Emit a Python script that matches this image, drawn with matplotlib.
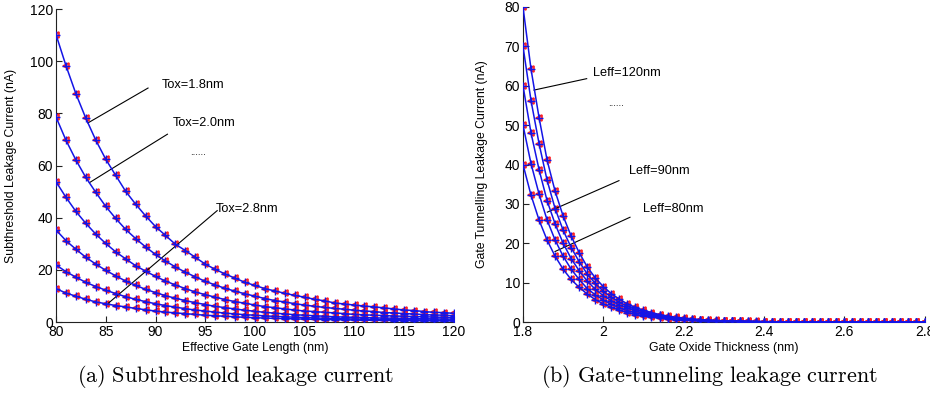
import numpy as np
import matplotlib
matplotlib.use("Agg")
import matplotlib.pyplot as plt

plt.rcParams['font.family'] = ['Liberation Sans', 'DejaVu Sans']
plt.rcParams['mathtext.fontset'] = 'cm'

# ---------------- data: left panel (subthreshold leakage) ----------------
leff_nm = list(range(80, 121))
tox_labels = ["1.8", "2.0", "2.2", "2.4", "2.6", "2.8"]
sub_tox18 = [110.2, 98.3, 87.5, 78.1, 69.7, 62.4, 56.2, 50.1, 45.2, 40.7, 36.6, 33.2, 29.8, 27.4, 24.8,
             22.2, 20.2, 18.4, 16.8, 15.2, 14.0, 12.8, 11.9, 11.0, 10.2, 9.5, 8.7, 8.1, 7.3, 6.9, 6.5,
             6.1, 5.8, 5.4, 5.0, 4.6, 4.4, 4.0, 3.7, 3.6, 3.3]
sub_tox20 = [78.6, 69.7, 62.1, 55.4, 49.7, 44.3, 39.7, 35.5, 32.0, 28.8, 25.9, 23.4, 21.1, 19.1, 17.3,
             15.6, 14.2, 12.9, 11.8, 10.8, 9.9, 9.0, 8.2, 7.7, 7.0, 6.5, 6.0, 5.6, 5.2, 4.9, 4.5,
             4.2, 4.0, 3.6, 3.5, 3.2, 3.1, 2.8, 2.7, 2.6, 2.4]
sub_tox22 = [53.8, 47.8, 42.4, 37.8, 33.7, 30.1, 26.9, 24.2, 21.6, 19.5, 17.5, 15.7, 14.2, 12.8, 11.5,
             10.5, 9.5, 8.6, 7.8, 7.2, 6.5, 5.9, 5.5, 5.0, 4.6, 4.2, 4.0, 3.7, 3.5, 3.2, 2.9,
             2.75, 2.6, 2.45, 2.3, 2.2, 2.1, 2.0, 1.9, 1.8, 1.7]
sub_tox24 = [35.3, 31.2, 27.9, 24.8, 22.2, 19.8, 17.7, 15.7, 14.1, 12.5, 11.3, 10.1, 9.1, 8.2, 7.4,
             6.7, 6.0, 5.5, 5.0, 4.5, 4.1, 3.7, 3.4, 3.1, 2.8, 2.6, 2.4, 2.2, 2.0, 1.9, 1.8,
             1.7, 1.6, 1.5, 1.45, 1.4, 1.3, 1.25, 1.2, 1.15, 1.1]
sub_tox26 = [21.9, 19.3, 17.2, 15.2, 13.6, 12.2, 10.9, 9.7, 8.7, 7.8, 7.0, 6.3, 5.7, 5.1, 4.6,
             4.2, 3.8, 3.4, 3.1, 2.8, 2.6, 2.35, 2.15, 2.0, 1.85, 1.7, 1.55, 1.45, 1.35, 1.25, 1.15,
             1.1, 1.0, 0.95, 0.9, 0.85, 0.8, 0.78, 0.75, 0.72, 0.7]
sub_tox28 = [12.8, 11.1, 9.9, 8.7, 7.7, 7.0, 6.3, 5.8, 5.2, 4.7, 4.2, 3.8, 3.5, 3.2, 2.9,
             2.6, 2.4, 2.2, 2.0, 1.8, 1.65, 1.5, 1.4, 1.3, 1.2, 1.1, 1.0, 0.95, 0.9, 0.82, 0.76,
             0.7, 0.65, 0.6, 0.56, 0.52, 0.5, 0.47, 0.45, 0.42, 0.4]

# ---------------- data: right panel (gate tunnelling leakage) ----------------
tox_nm = [round(1.80 + 0.02 * i, 2) for i in range(51)]
gate_leff120 = [80, 64.2, 51.9, 41.1, 33.2, 26.9, 21.8, 17.6, 14.0, 11.2, 9.0, 7.2, 5.8, 4.6, 3.7, 3.0,
                2.4, 1.9, 1.5, 1.2, 1.0, 0.8, 0.6, 0.5, 0.4, 0.3, 0.25, 0.2, 0.16, 0.13, 0.1, 0.08,
                0.07, 0.05, 0.04, 0.03, 0.03, 0.02, 0.02, 0.01, 0.01, 0.01, 0.01,
                0, 0, 0, 0, 0, 0, 0, 0]
gate_leff110 = [70, 56.2, 45.3, 36.0, 28.8, 23.3, 18.9, 15.3, 12.2, 9.8, 7.8, 6.3, 5.0, 4.0, 3.2, 2.6,
                2.1, 1.7, 1.3, 1.05, 0.85, 0.7, 0.55, 0.44, 0.35, 0.28, 0.22, 0.18, 0.14, 0.11, 0.09,
                0.07, 0.06, 0.05, 0.04, 0.03, 0.02, 0.02, 0.01, 0.01, 0.01, 0.01,
                0, 0, 0, 0, 0, 0, 0, 0, 0]
gate_leff100 = [60, 48.0, 38.7, 30.8, 24.9, 20.0, 16.1, 13.0, 10.4, 8.3, 6.7, 5.4, 4.3, 3.5, 2.8, 2.2,
                1.8, 1.4, 1.15, 0.9, 0.75, 0.6, 0.48, 0.38, 0.3, 0.24, 0.19, 0.15, 0.12, 0.1, 0.08,
                0.06, 0.05, 0.04, 0.03, 0.02, 0.02, 0.01, 0.01, 0.01,
                0, 0, 0, 0, 0, 0, 0, 0, 0, 0, 0]
gate_leff90 = [50, 40.2, 32.5, 25.9, 20.8, 16.7, 13.4, 10.8, 8.5, 6.9, 5.6, 4.5, 3.6, 2.9, 2.3, 1.85,
               1.5, 1.2, 0.95, 0.76, 0.6, 0.48, 0.39, 0.31, 0.25, 0.2, 0.16, 0.13, 0.1, 0.08, 0.06,
               0.05, 0.04, 0.03, 0.02, 0.02, 0.01, 0.01,
               0, 0, 0, 0, 0, 0, 0, 0, 0, 0, 0, 0, 0]
gate_leff80 = [40, 32.2, 25.9, 20.8, 16.7, 13.4, 10.8, 8.8, 7.1, 5.7, 4.6, 3.7, 3.0, 2.4, 1.9, 1.5,
               1.2, 0.97, 0.78, 0.62, 0.5, 0.4, 0.32, 0.26, 0.2, 0.16, 0.13, 0.1, 0.08, 0.065, 0.05,
               0.04, 0.03, 0.02, 0.02, 0.01, 0.01,
               0, 0, 0, 0, 0, 0, 0, 0, 0, 0, 0, 0, 0, 0]

sub_series = [sub_tox18, sub_tox20, sub_tox22, sub_tox24, sub_tox26, sub_tox28]
gate_series = [gate_leff120, gate_leff110, gate_leff100, gate_leff90, gate_leff80]

fig = plt.figure(figsize=(9.3, 4.0), dpi=100)
ax1 = fig.add_axes([56 / 930, 1 - 322 / 400, 398 / 930, 313 / 400])
ax2 = fig.add_axes([523 / 930, 1 - 322 / 400, 401.5 / 930, 315 / 400])


def draw_series(ax, x, ys):
    for y in ys:
        ax.plot(x, y, linestyle='none', marker='<', markersize=5, markerfacecolor='#ff9090',
                markeredgecolor='#ff2020', markeredgewidth=1.2, zorder=2)
        ax.plot(x, y, color='#1414e6', linewidth=1.1, marker='+', markersize=6,
                markeredgewidth=1.0, zorder=3)


draw_series(ax1, leff_nm, sub_series)
draw_series(ax2, tox_nm, gate_series)

for ax in (ax1, ax2):
    for s in ('top', 'right'):
        ax.spines[s].set_visible(False)
    for s in ('left', 'bottom'):
        ax.spines[s].set_color('#222222')
        ax.spines[s].set_linewidth(0.8)
    ax.tick_params(direction='in', length=4, width=0.8, labelsize=10, pad=2, colors='#222222')
    ax.tick_params(labelcolor='black')

ax1.set_xlim(80, 120)
ax1.set_ylim(0, 120)
ax1.set_xticks([80, 85, 90, 95, 100, 105, 110, 115, 120])
ax1.set_yticks([0, 20, 40, 60, 80, 100, 120])
ax1.set_xlabel("Effective Gate Length (nm)", fontsize=8.8)
ax1.set_ylabel("Subthreshold Leakage Current (nA)", fontsize=8.8)
ax1.xaxis.set_label_coords(0.5, -0.065)
ax1.yaxis.set_label_coords(-0.097, 0.5)

ax2.set_xlim(1.8, 2.8)
ax2.set_ylim(0, 80)
ax2.set_xticks([1.8, 2.0, 2.2, 2.4, 2.6, 2.8])
ax2.set_xticklabels(["1.8", "2", "2.2", "2.4", "2.6", "2.8"])
ax2.set_yticks([0, 10, 20, 30, 40, 50, 60, 70, 80])
ax2.set_xlabel("Gate Oxide Thickness (nm)", fontsize=8.8)
ax2.set_ylabel("Gate Tunnelling Leakage Current (nA)", fontsize=8.8)
ax2.xaxis.set_label_coords(0.5, -0.065)
ax2.yaxis.set_label_coords(-0.087, 0.5)

# annotations
ann = dict(color='black', linewidth=0.8)
ax1.plot([83.2, 89.25], [76.3, 89.7], **ann)
ax1.text(90.65, 91.0, "Tox=1.8nm", fontsize=9.2, va='center', ha='left')
ax1.plot([83.35, 91.2], [53.4, 72.0], **ann)
ax1.text(91.7, 76.4, "Tox=2.0nm", fontsize=9.2, va='center', ha='left')
ax1.text(93.5, 65.0, "......", fontsize=7, va='center', ha='left')
ax1.plot([85.26, 96.2], [7.2, 42.7], **ann)
ax1.text(96.1, 43.3, "Tox=2.8nm", fontsize=9.2, va='center', ha='left')

ax2.plot([1.8274, 1.9586], [58.9, 61.8], **ann)
ax2.text(1.9735, 63.3, "Leff=120nm", fontsize=9.2, va='center', ha='left')
ax2.text(2.012, 55.5, "......", fontsize=7, va='center', ha='left')
ax2.plot([1.8606, 2.039], [27.9, 35.9], **ann)
ax2.text(2.065, 38.4, "Leff=90nm", fontsize=9.2, va='center', ha='left')
ax2.plot([1.8797, 2.0665], [17.9, 26.6], **ann)
ax2.text(2.098, 28.8, "Leff=80nm", fontsize=9.2, va='center', ha='left')

# captions
fig.text(236 / 930, 1 - 377 / 400, r"$\mathrm{(a)\ Subthreshold\ leakage\ current}$",
         fontsize=16, ha='center', va='center')
fig.text(709 / 930, 1 - 377 / 400, r"$\mathrm{(b)\ Gate}$-$\mathrm{tunneling\ leakage\ current}$",
         fontsize=16, ha='center', va='center')

fig.savefig("out.png", dpi=100)
